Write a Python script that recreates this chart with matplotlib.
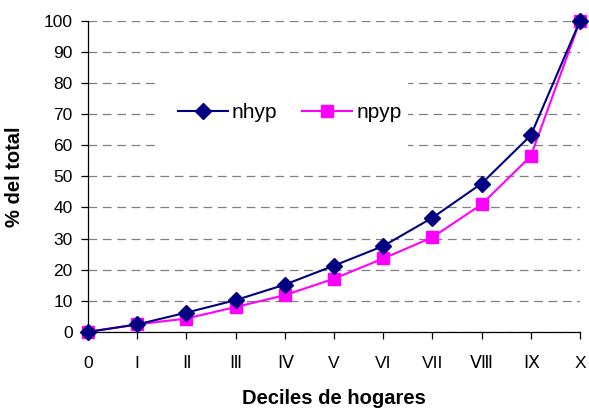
import numpy as np
import matplotlib
matplotlib.use("Agg")
import matplotlib.pyplot as plt
from matplotlib.patches import Rectangle

plt.rcParams['font.family'] = ['Liberation Sans', 'DejaVu Sans']

deciles = ["0", "I", "\u2161", "\u2162", "\u2163", "V", "VI", "VII", "\u2167", "\u2168", "X"]
nhyp = [0, 2.4, 6.2, 10.2, 15.2, 21.3, 27.6, 36.7, 47.7, 63.2, 100]
npyp = [0, 2.4, 4.3, 8.0, 11.8, 17.1, 23.6, 30.4, 41.0, 56.5, 100]

x = np.arange(len(deciles))

fig = plt.figure(figsize=(5.89, 4.18), dpi=100)
ax = fig.add_axes([0.1494, 0.206, 0.8353, 0.744])

ax.plot(x, nhyp, color="#000080", lw=1.5, marker="D", markersize=8,
        label="nhyp", clip_on=False, zorder=4)
ax.plot(x, npyp, color="#FF00FF", lw=1.5, marker="s", markersize=8,
        label="npyp", clip_on=False, zorder=3)

ax.set_xlim(0, 10)
ax.set_ylim(0, 100)
ax.set_xticks(x)
ax.set_xticklabels(deciles)
ax.set_yticks(np.arange(0, 101, 10))

ax.yaxis.grid(True, color="#808080", lw=0.9, linestyle=(0, (7, 4.5)))
ax.set_axisbelow(True)

for s in ["top", "right"]:
    ax.spines[s].set_visible(False)
ax.spines["left"].set_linewidth(0.9)
ax.spines["bottom"].set_linewidth(0.9)
ax.tick_params(axis="both", direction="out", length=5, width=0.9, labelsize=12.5)
ax.tick_params(axis="x", pad=12)
ax.tick_params(axis="y", pad=6)

ax.set_xlabel("Deciles de hogares", fontsize=14.5, fontweight="bold", labelpad=13)
ax.set_ylabel("% del total", fontsize=14.5, fontweight="bold", labelpad=14)

# white area behind the legend
ax.add_patch(Rectangle((0.142, 0.546), 0.508, 0.312, transform=ax.transAxes,
                       facecolor="white", edgecolor="none", zorder=2))
ax.legend(loc="center", bbox_to_anchor=(0.41, 0.706), ncol=2, frameon=False,
          fontsize=15, handlelength=2.4, handletextpad=0.2, columnspacing=1.2)

fig.savefig("out.png", dpi=100)
